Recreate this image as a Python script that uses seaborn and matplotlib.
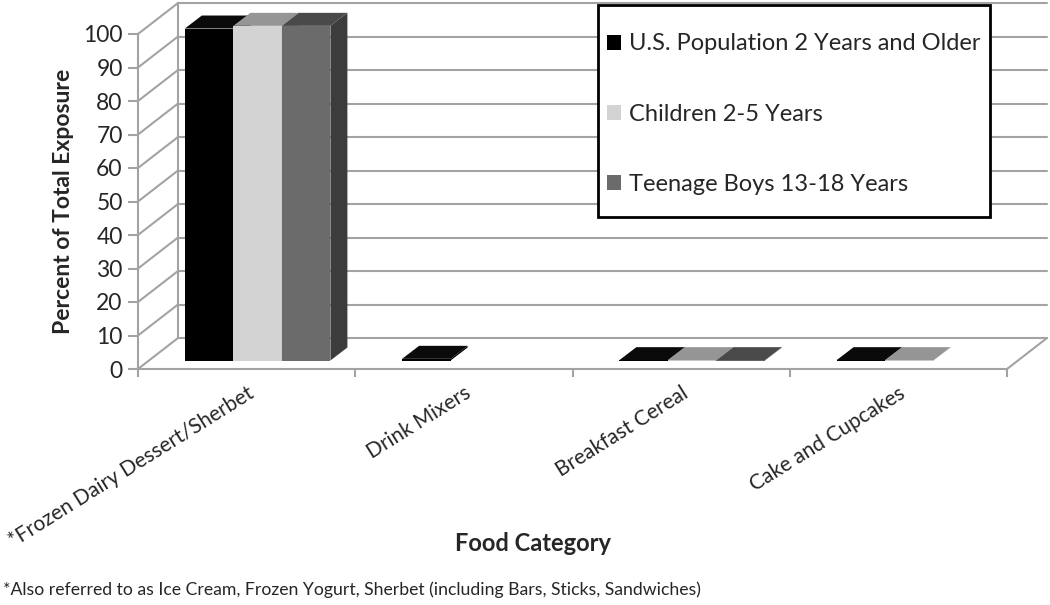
import numpy as np
import pandas as pd
import seaborn as sns
import matplotlib.pyplot as plt
from matplotlib.patches import Polygon, Rectangle, Patch
from matplotlib.colors import to_hex

categories = ["*Frozen Dairy Dessert/Sherbet", "Drink Mixers", "Breakfast Cereal", "Cake and Cupcakes"]
groups = ["U.S. Population 2 Years and Older", "Children 2-5 Years", "Teenage Boys 13-18 Years"]
us_pop = [99.1, 0.5, 0.1, 0.1]
children = [99.9, 0.0, 0.1, 0.1]
teen_boys = [99.9, 0.0, 0.1, 0.0]
y_ticks = list(range(0, 101, 10))

front_colors = ['#000000', '#d3d3d3', '#6b6b6b']
top_colors = ['#0a0a0a', '#959595', '#4a4a4a']
side_colors = ['#000000', '#a9a9a9', '#3c3c3c']
grid_color = '#a3a3a3'

df = pd.DataFrame({
    'category': categories * 3,
    'group': np.repeat(groups, len(categories)),
    'value': us_pop + children + teen_boys,
})

sns.set_style('white')
plt.rcParams['font.family'] = ['Lato', 'DejaVu Sans']

W, H = 1050, 605
fig = plt.figure(figsize=(W / 100, H / 100), dpi=100)
left_px, right_px, top_px, bot_px = 138, 1007, 34, 369
ax = fig.add_axes([left_px / W, 1 - bot_px / H, (right_px - left_px) / W, (bot_px - top_px) / H])

sns.barplot(data=df, x='category', y='value', hue='group', order=categories, hue_order=groups,
            palette=dict(zip(groups, front_colors)), saturation=1, width=0.67, legend=False, ax=ax)

# pixel -> data conversion for the fake 3d depth
sx = len(categories) / (right_px - left_px)
sy = 100 / (bot_px - top_px)
wx, wy = 40 * sx, 31 * sy      # wall depth
bx, by = 11 * sx, 8.5 * sy     # bars sit a bit behind the front edge
dx, dy = 17 * sx, 13 * sy      # bar depth

x_lo, x_hi = -0.5, len(categories) - 0.5

# walls and floor
for v in y_ticks:
    ax.plot([x_lo, x_lo + wx], [v, v + wy], color=grid_color, lw=1.5, zorder=1, clip_on=False)
    ax.plot([x_lo + wx, x_hi + wx], [v + wy, v + wy], color=grid_color, lw=1.5, zorder=1, clip_on=False)
ax.plot([x_lo + wx, x_lo + wx], [wy, 100 + wy], color=grid_color, lw=1.5, zorder=1, clip_on=False)
ax.plot([x_hi, x_hi + wx], [0, wy], color=grid_color, lw=1.5, zorder=1, clip_on=False)

# bars: front from seaborn, add top and side faces
bars = sorted(ax.patches, key=lambda p: p.get_x())
for i, p in enumerate(bars):
    h = p.get_height()
    if h <= 0:
        p.set_visible(False)
        continue
    k = front_colors.index(to_hex(p.get_facecolor()))
    x = p.get_x() + bx
    w = p.get_width()
    y = by
    z = 3 + i * 0.03
    p.set_x(x)
    p.set_y(y)
    p.set_edgecolor('none')
    p.set_zorder(z)
    p.set_clip_on(False)
    top = Polygon([(x, y + h), (x + w, y + h), (x + w + dx, y + h + dy), (x + dx, y + h + dy)],
                  closed=True, fc=top_colors[k], ec='none', zorder=z + 0.01, clip_on=False)
    side = Polygon([(x + w, y), (x + w + dx, y + dy), (x + w + dx, y + h + dy), (x + w, y + h)],
                   closed=True, fc=side_colors[k], ec='none', zorder=z + 0.02, clip_on=False)
    ax.add_patch(top)
    ax.add_patch(side)

ax.set_xlim(x_lo, x_hi)
ax.set_ylim(0, 100)

sns.despine(ax=ax)
for s in ['left', 'bottom']:
    ax.spines[s].set_color(grid_color)
    ax.spines[s].set_linewidth(1.5)
    ax.spines[s].set_zorder(1)

ax.set_yticks(y_ticks)
ax.tick_params(axis='y', left=True, length=7, width=1.5, color=grid_color, labelsize=16.5, pad=4)
ax.set_xticks(range(len(categories)))
ax.set_xticks(np.arange(x_lo, x_hi + 0.1, 1), minor=True)
ax.set_xticklabels(categories, rotation=32, ha='right', rotation_mode='anchor', fontsize=15)
ax.tick_params(axis='x', which='major', bottom=True, length=0, pad=10)
ax.tick_params(axis='x', which='minor', bottom=True, length=6, width=1.5, color=grid_color)

ax.set_ylabel('Percent of Total Exposure', fontsize=16.5, fontweight='bold')
ax.yaxis.set_label_coords((74 - left_px) / (right_px - left_px), 0.5)
ax.set_xlabel('Food Category', fontsize=17, fontweight='bold')
ax.xaxis.set_label_coords((533 - left_px) / (right_px - left_px), -(532 - bot_px) / (bot_px - top_px))

# legend box
fig.add_artist(Rectangle((598 / W, 1 - 217 / H), 392 / W, 212 / H, transform=fig.transFigure,
                         fc='white', ec='black', lw=2, zorder=4))
handles = [Patch(fc=c, ec='none') for c in front_colors]
fig.legend(handles, groups, loc='upper left', bbox_to_anchor=(607 / W, 1 - 33.5 / H), frameon=False,
           borderpad=0, borderaxespad=0, fontsize=17, labelspacing=2.09, handlelength=0.6,
           handleheight=0.6, handletextpad=0.33)

fig.text(3 / W, 1 - 590 / H,
         '*Also referred to as Ice Cream, Frozen Yogurt, Sherbet (including Bars, Sticks, Sandwiches)',
         fontsize=12.7, ha='left', va='center')

plt.savefig('out.png', dpi=100)
